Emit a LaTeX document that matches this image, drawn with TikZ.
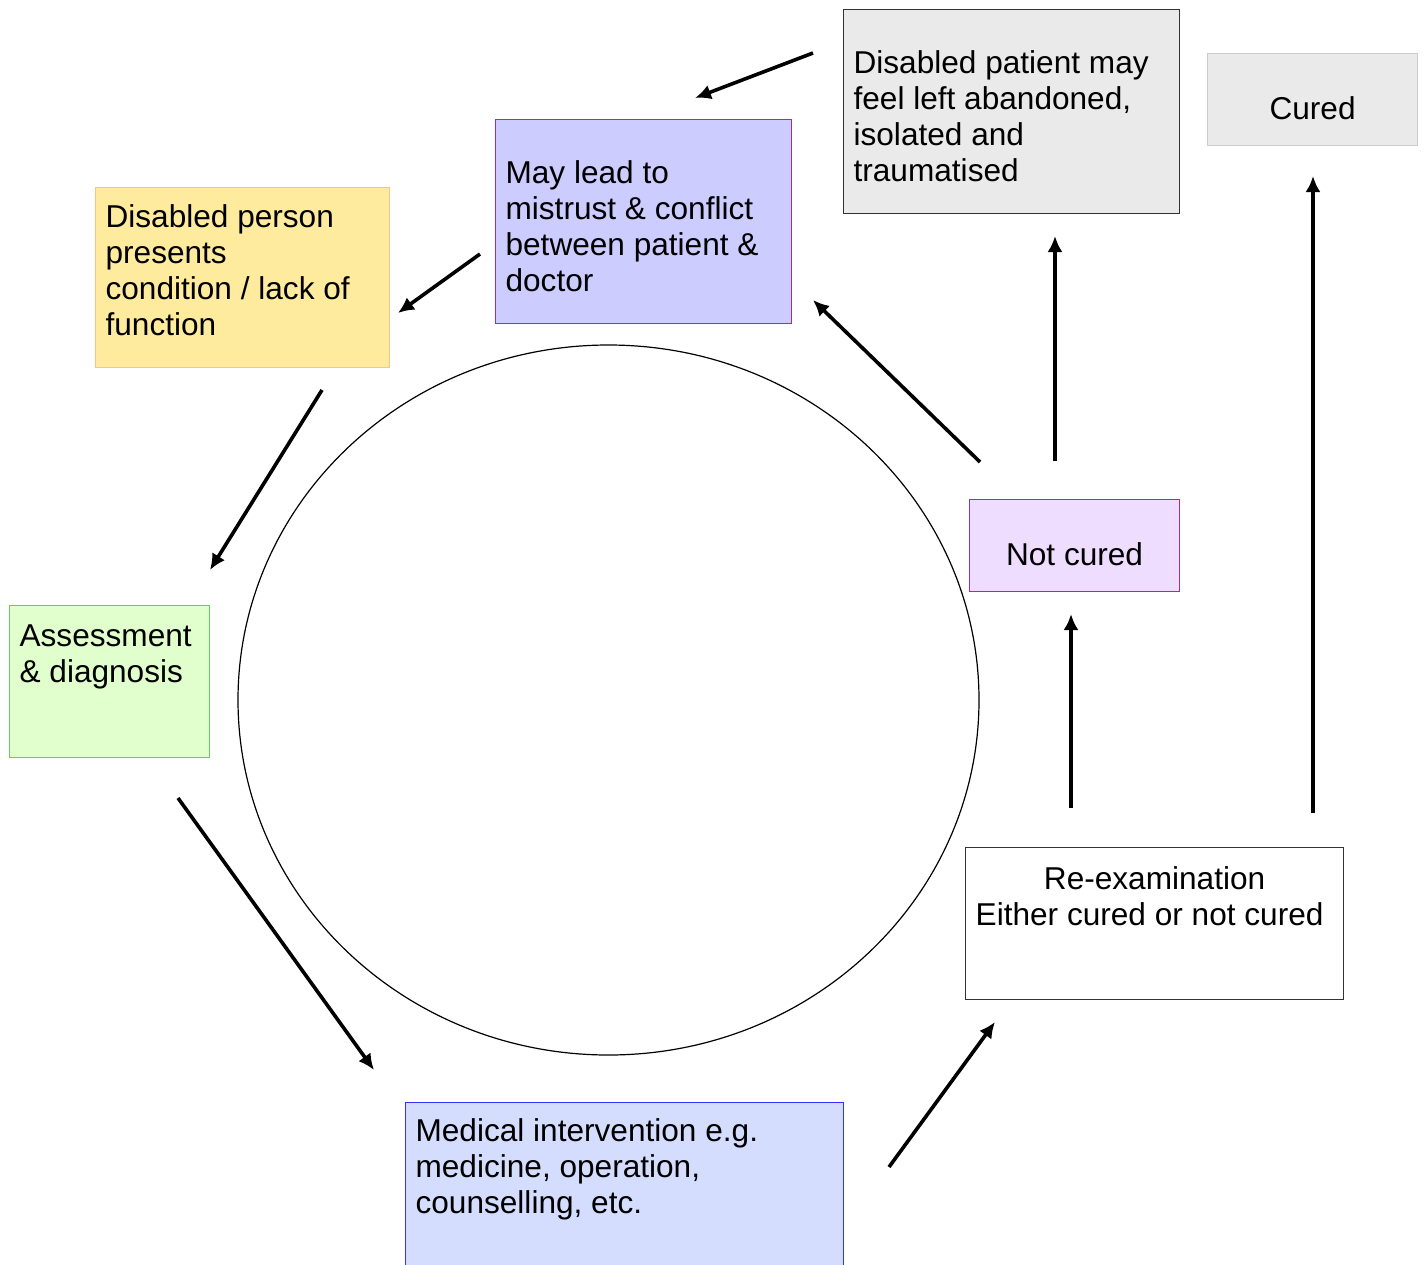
\documentclass[tikz,border=0pt]{standalone}
\usepackage{fontspec}
\setmainfont{Liberation Sans}
\usetikzlibrary{positioning,arrows.meta}
\newlength{\pxu}\setlength{\pxu}{0.5pt}
\definecolor{yellowfill}{HTML}{FFEB9E}
\definecolor{yellowline}{HTML}{FFC090}
\definecolor{lilacfill}{HTML}{CCCCFF}
\definecolor{plumline}{HTML}{993399}
\definecolor{greyfill}{HTML}{EAEAEA}
\definecolor{greyline}{HTML}{333333}
\definecolor{paleline}{HTML}{CCCCCC}
\definecolor{greenfill}{HTML}{E0FFCC}
\definecolor{greenline}{HTML}{66CC66}
\definecolor{mauvefill}{HTML}{EEDDFF}
\definecolor{bluefill}{HTML}{D5DDFF}
\definecolor{blueline}{HTML}{3333FF}
\tikzstyle{stepbox}=[draw,rectangle,anchor=north west,inner xsep=10\pxu,inner ysep=0pt,
  line width=0.6pt,font=\fontsize{15.8pt}{18pt}\selectfont]
% name, corner, width, height, style, top gap, text
\newcommand{\newBox}[7]{\node[stepbox,#5](#1) at (#2)
  {\parbox[c][#4\pxu][t]{\dimexpr #3\pxu-20\pxu\relax}{\vspace*{#6\pxu}#7}};}
\newcommand{\newArrow}[2]{\draw[->] (#1) -- (#2);}

\begin{document}
\begin{tikzpicture}[x=\pxu,y=-\pxu,
    >={Latex[length=8pt,width=7.5pt]},line width=1.8pt
    ]
    \useasboundingbox (0,0) rectangle (1424,1264);
    % cycle
    \draw[line width=0.6pt] (608.5,700) ellipse [x radius=370.5\pxu, y radius=355\pxu];
    % boxes
    \newBox{presents}{95,187}{294}{180}{fill=yellowfill,draw=yellowline}{17}
      {\raggedright Disabled person\\presents\\condition / lack of\\function}
    \newBox{mistrust}{495,119}{296}{204}{fill=lilacfill,draw=plumline}{41}
      {\raggedright May lead to\\mistrust \& conflict\\between patient \&\\doctor}
    \newBox{abandoned}{843,9}{336}{204}{fill=greyfill,draw=greyline}{41}
      {\raggedright Disabled patient may\\feel left abandoned,\\isolated and\\traumatised}
    \newBox{cured}{1207,53}{210}{92}{fill=greyfill,draw=paleline}{43}
      {\centering Cured}
    \newBox{assess}{9,605}{200}{152}{fill=greenfill,draw=greenline}{19}
      {\raggedright Assessment\\\& diagnosis}
    \newBox{notcured}{969,499}{210}{92}{fill=mauvefill,draw=plumline}{43}
      {\centering Not cured}
    \newBox{reexam}{965,847}{378}{152}{fill=white,draw=greyline}{19}
      {\centering Re-examination\\\hspace*{-10\pxu}Either cured or not cured}
    \newBox{medical}{405,1102}{438}{190}{fill=bluefill,draw=blueline}{16}
      {\raggedright Medical intervention e.g.\\medicine, operation,\\counselling, etc.}
    % arrow ends
    \coordinate (g1s) at (813,53);   \coordinate (g1e) at (695,98);
    \coordinate (p1s) at (480,254);  \coordinate (p1e) at (398,313);
    \coordinate (y1s) at (322,390);  \coordinate (y1e) at (210,570);
    \coordinate (a1s) at (178,798);  \coordinate (a1e) at (374,1070);
    \coordinate (m1s) at (889,1167); \coordinate (m1e) at (995,1022);
    \coordinate (r1s) at (1071,808); \coordinate (r1e) at (1071,614);
    \coordinate (r2s) at (1313,813); \coordinate (r2e) at (1313,176);
    \coordinate (n1s) at (1055,461); \coordinate (n1e) at (1055,236);
    \coordinate (n2s) at (980,462);  \coordinate (n2e) at (813,300);
    % arrows
    \newArrow{g1s}{g1e}
    \newArrow{p1s}{p1e}
    \newArrow{y1s}{y1e}
    \newArrow{a1s}{a1e}
    \newArrow{m1s}{m1e}
    \newArrow{r1s}{r1e}
    \newArrow{r2s}{r2e}
    \newArrow{n1s}{n1e}
    \newArrow{n2s}{n2e}
  \end{tikzpicture}
\end{document}
